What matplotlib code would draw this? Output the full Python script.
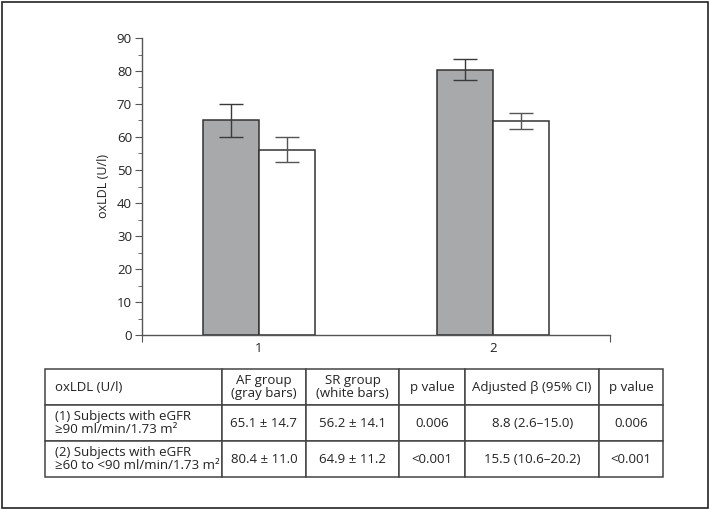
import matplotlib
matplotlib.use("Agg")
import matplotlib.pyplot as plt
from matplotlib.patches import Rectangle

plt.rcParams['font.family'] = ['Open Sans', 'DejaVu Sans']

# data
groups = [1, 2]
af_mean = [65.1, 80.4]
af_err = [5.0, 3.2]
sr_mean = [56.2, 64.9]
sr_err = [3.9, 2.4]

col_labels = ["oxLDL (U/l)", "AF group\n(gray bars)", "SR group\n(white bars)",
              "p value", "Adjusted β (95% CI)", "p value"]
row1 = ["(1) Subjects with eGFR\n≥90 ml/min/1.73 m²", "65.1 ± 14.7", "56.2 ± 14.1",
        "0.006", "8.8 (2.6–15.0)", "0.006"]
row2 = ["(2) Subjects with eGFR\n≥60 to <90 ml/min/1.73 m²", "80.4 ± 11.0", "64.9 ± 11.2",
        "<0.001", "15.5 (10.6–20.2)", "<0.001"]

W, H = 709, 509
fig = plt.figure(figsize=(W / 100, H / 100), dpi=100)

def px_axes(x0, y0, x1, y1):
    # pixel box (top-left origin) -> figure axes
    return fig.add_axes([x0 / W, 1 - y1 / H, (x1 - x0) / W, (y1 - y0) / H])

ax = px_axes(141.7, 38, 610, 335)
bw = 0.24
axis_col = '#555555'
ax.bar([g - bw / 2 for g in groups], af_mean, width=bw, color='#a8a9ab',
       edgecolor='#333333', linewidth=1.1, zorder=2)
ax.bar([g + bw / 2 for g in groups], sr_mean, width=bw, color='white',
       edgecolor='#333333', linewidth=1.1, zorder=2)
ax.errorbar([g - bw / 2 for g in groups], af_mean, yerr=af_err, fmt='none',
            ecolor='#3a3a3a', elinewidth=1.0, capsize=8.5, capthick=1.0, zorder=3)
ax.errorbar([g + bw / 2 for g in groups], sr_mean, yerr=sr_err, fmt='none',
            ecolor='#555555', elinewidth=1.0, capsize=8.5, capthick=1.0, zorder=3)

ax.set_xlim(0.5, 2.5)
ax.set_ylim(0, 90)
ax.set_yticks(range(0, 91, 10))
ax.set_yticks(range(5, 90, 10), minor=True)
ax.set_xticks([0.5, 2.5])
ax.set_xticklabels(['', ''])
ax.set_xticks(groups, minor=True)
ax.set_xticklabels([str(g) for g in groups], minor=True)
ax.tick_params(axis='x', which='minor', length=0, pad=5)
ax.tick_params(axis='x', which='major', length=5, direction='out', color=axis_col)
ax.tick_params(axis='y', which='major', length=5, color=axis_col, pad=2)
ax.tick_params(axis='y', which='minor', length=3, color=axis_col)
ax.tick_params(which='both', labelsize=9.5, labelcolor='#222222')
for s in ['top', 'right']:
    ax.spines[s].set_visible(False)
for s in ['left', 'bottom']:
    ax.spines[s].set_color(axis_col)
    ax.spines[s].set_linewidth(1.0)
ax.set_ylabel('oxLDL (U/l)', fontsize=9, color='#222222', labelpad=5)

# table
tax = px_axes(45, 369, 663.3, 477.3)
tax.axis('off')
widths = [176.7, 84.3, 93.3, 65.7, 134.3, 64.0]
tot = sum(widths)
tbl = tax.table(cellText=[col_labels, row1, row2], colWidths=[w / tot for w in widths],
                bbox=[0, 0, 1, 1], cellLoc='center')
tbl.auto_set_font_size(False)
tbl.set_fontsize(9.5)
for (r, c), cell in tbl.get_celld().items():
    cell.set_edgecolor('#444444')
    cell.set_linewidth(1.1)
    cell.get_text().set_color('#222222')
    cell.get_text().set_linespacing(1.0)
    if c == 0:
        cell.get_text().set_ha('left')
        cell.PAD = 10 / widths[0]

# outer frame
fig.patches.append(Rectangle((1.5 / W, 1.5 / H), 1 - 3 / W, 1 - 3 / H,
                             transform=fig.transFigure, fill=False,
                             edgecolor='#222222', linewidth=1.2))

fig.savefig('out.png', dpi=100)
